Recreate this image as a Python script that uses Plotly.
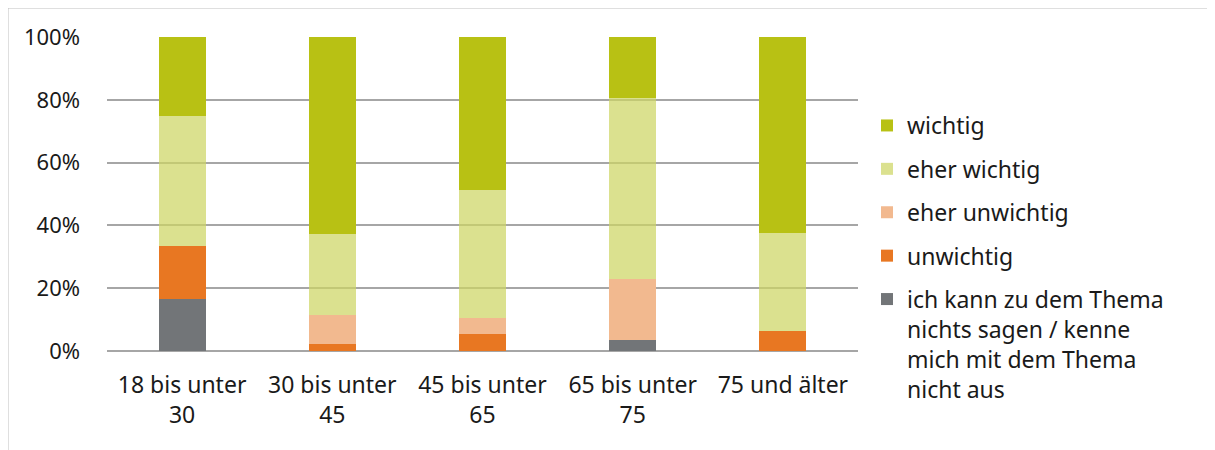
import plotly.graph_objects as go

categories = ["18 bis unter<br>30", "30 bis unter<br>45", "45 bis unter<br>65", "65 bis unter<br>75", "75 und älter"]

# stacked bottom -> top
series_names = [
    "ich kann zu dem Thema<br>nichts sagen / kenne<br>mich mit dem Thema<br>nicht aus",
    "unwichtig",
    "eher unwichtig",
    "eher wichtig",
    "wichtig",
]
weiss_nicht = [16.7, 0.0, 0.0, 3.6, 0.0]
unwichtig = [16.7, 2.3, 5.3, 0.0, 6.25]
eher_unwichtig = [0.0, 9.3, 5.3, 19.3, 0.0]
eher_wichtig = [41.6, 25.6, 40.8, 57.6, 31.25]
wichtig = [25.0, 62.8, 48.6, 19.5, 62.5]

series_values = [weiss_nicht, unwichtig, eher_unwichtig, eher_wichtig, wichtig]
colors = ["#727578", "#e87722", "#f2b98f", "rgba(205,214,100,0.72)", "#b8c114"]

fig = go.Figure()
n = len(series_names)
for i, (name, vals, col) in enumerate(zip(series_names, series_values, colors)):
    fig.add_trace(go.Bar(
        x=categories, y=vals, name=name,
        marker=dict(color=col, line=dict(width=0)),
        legendgroup=f"g{i}",
        legendrank=n - i,
        width=0.313,
    ))

OFF = 8  # page body margin
W, H = 1215 - OFF, 450 - OFF
# plot area in window pixel coords
L, R, T, B = 107, 858, 37, 351

def px_x(p):
    return (p - L) / (R - L)

def px_y(p):
    return (B - p) / (B - T)

FS = 23

fig.update_layout(
    width=W, height=H,
    margin=dict(l=L - OFF, r=W - (R - OFF), t=T - OFF, b=H - (B - OFF)),
    barmode="stack",
    plot_bgcolor="white", paper_bgcolor="white",
    font=dict(family="Noto Sans", size=FS, color="#1a1a1a"),
    showlegend=True,
    legend=dict(
        traceorder="grouped",
        tracegroupgap=10.5,
        valign="top",
        x=px_x(867), xanchor="left",
        y=px_y(104), yanchor="top",
        font=dict(family="Noto Sans", size=FS, color="#1a1a1a"),
        bgcolor="rgba(0,0,0,0)",
    ),
    xaxis=dict(
        showgrid=False, showline=False, ticks="",
        ticklabelstandoff=18,
        tickfont=dict(size=FS),
    ),
    yaxis=dict(
        range=[0, 100], dtick=20, ticksuffix="%",
        showgrid=True, gridcolor="#a6a6a6", gridwidth=1.5,
        zeroline=True, zerolinecolor="#a6a6a6", zerolinewidth=1.5,
        showline=False, ticks="",
        ticklabelstandoff=26,
        tickfont=dict(size=FS - 1),
    ),
    shapes=[dict(
        type="rect", xref="paper", yref="paper",
        x0=px_x(8), x1=px_x(1209), y0=px_y(470), y1=px_y(8),
        line=dict(color="#bfbfbf", width=1), fillcolor="rgba(0,0,0,0)",
        layer="below",
    )],
)

fig.write_html("out.html")
